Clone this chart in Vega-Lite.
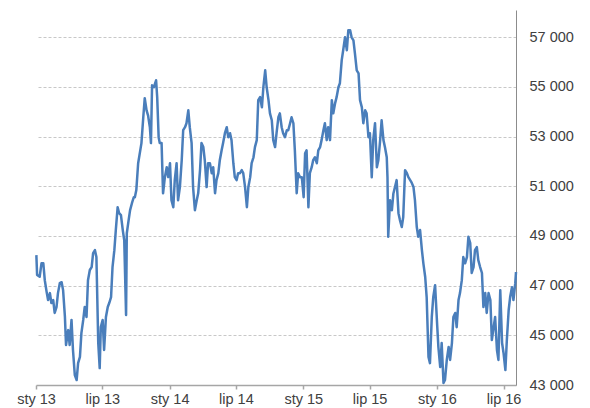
{
  "$schema": "https://vega.github.io/schema/vega-lite/v6.json",
  "width": 480,
  "height": 375,
  "autosize": {"type": "none"},
  "padding": {"left": 36, "top": 10, "right": 74, "bottom": 23},
  "background": "white",
  "config": {"view": {"stroke": null}, "font": "Liberation Sans"},
  "data": {"values": [
    {"d":"2013-01-02","v":48230},{"d":"2013-01-04","v":47430},{"d":"2013-01-11","v":47360},{"d":"2013-01-16","v":47900},{"d":"2013-01-21","v":47900},{"d":"2013-01-25","v":47220},{"d":"2013-01-30","v":46750},{"d":"2013-02-03","v":46420},{"d":"2013-02-08","v":46700},{"d":"2013-02-12","v":46300},{"d":"2013-02-17","v":46420},{"d":"2013-02-21","v":45900},{"d":"2013-02-26","v":46140},{"d":"2013-03-02","v":46700},{"d":"2013-03-07","v":47100},{"d":"2013-03-12","v":47140},{"d":"2013-03-16","v":46820},{"d":"2013-03-21","v":45740},{"d":"2013-03-24","v":44610},{"d":"2013-03-30","v":45210},{"d":"2013-04-03","v":44610},{"d":"2013-04-08","v":45620},{"d":"2013-04-12","v":44410},{"d":"2013-04-17","v":43400},{"d":"2013-04-22","v":43200},{"d":"2013-04-26","v":43880},{"d":"2013-05-01","v":44130},{"d":"2013-05-05","v":45090},{"d":"2013-05-10","v":45620},{"d":"2013-05-14","v":46140},{"d":"2013-05-19","v":45740},{"d":"2013-05-23","v":47220},{"d":"2013-05-28","v":47630},{"d":"2013-06-02","v":47750},{"d":"2013-06-06","v":48310},{"d":"2013-06-11","v":48430},{"d":"2013-06-15","v":48150},{"d":"2013-06-20","v":44690},{"d":"2013-06-24","v":43680},{"d":"2013-06-27","v":45330},{"d":"2013-07-02","v":45620},{"d":"2013-07-06","v":44410},{"d":"2013-07-11","v":45740},{"d":"2013-07-16","v":46140},{"d":"2013-07-20","v":46300},{"d":"2013-07-25","v":46540},{"d":"2013-07-29","v":47750},{"d":"2013-08-03","v":48430},{"d":"2013-08-07","v":49240},{"d":"2013-08-12","v":50160},{"d":"2013-08-16","v":49920},{"d":"2013-08-21","v":49840},{"d":"2013-08-26","v":49240},{"d":"2013-08-30","v":48830},{"d":"2013-09-04","v":45820},{"d":"2013-09-06","v":49110},{"d":"2013-09-11","v":49640},{"d":"2013-09-15","v":50040},{"d":"2013-09-20","v":50320},{"d":"2013-09-25","v":50560},{"d":"2013-09-28","v":50560},{"d":"2013-10-02","v":50850},{"d":"2013-10-07","v":51930},{"d":"2013-10-16","v":52740},{"d":"2013-10-21","v":53780},{"d":"2013-10-25","v":54550},{"d":"2013-10-30","v":54060},{"d":"2013-11-03","v":53860},{"d":"2013-11-08","v":53380},{"d":"2013-11-11","v":52740},{"d":"2013-11-14","v":55070},{"d":"2013-11-19","v":54990},{"d":"2013-11-25","v":55270},{"d":"2013-11-28","v":54590},{"d":"2013-12-02","v":52980},{"d":"2013-12-05","v":52740},{"d":"2013-12-10","v":52740},{"d":"2013-12-14","v":50720},{"d":"2013-12-19","v":51370},{"d":"2013-12-24","v":51770},{"d":"2013-12-28","v":51370},
    {"d":"2014-01-02","v":51930},{"d":"2014-01-06","v":50440},{"d":"2014-01-11","v":50160},{"d":"2014-01-15","v":51250},{"d":"2014-01-20","v":51930},{"d":"2014-01-24","v":50440},{"d":"2014-01-29","v":50970},{"d":"2014-02-03","v":52050},{"d":"2014-02-07","v":53260},{"d":"2014-02-12","v":53380},{"d":"2014-02-16","v":53540},{"d":"2014-02-21","v":54060},{"d":"2014-02-25","v":53380},{"d":"2014-03-02","v":52740},{"d":"2014-03-06","v":50970},{"d":"2014-03-11","v":50040},{"d":"2014-03-16","v":50440},{"d":"2014-03-20","v":50720},{"d":"2014-03-25","v":51650},{"d":"2014-03-29","v":52740},{"d":"2014-04-03","v":52580},{"d":"2014-04-07","v":52050},{"d":"2014-04-12","v":50970},{"d":"2014-04-16","v":51930},{"d":"2014-04-21","v":51930},{"d":"2014-04-26","v":51530},{"d":"2014-04-30","v":51770},{"d":"2014-05-05","v":50720},{"d":"2014-05-09","v":51250},{"d":"2014-05-14","v":51530},{"d":"2014-05-18","v":52050},{"d":"2014-05-23","v":52450},{"d":"2014-05-27","v":52740},{"d":"2014-06-01","v":53140},{"d":"2014-06-06","v":53380},{"d":"2014-06-10","v":52980},{"d":"2014-06-15","v":53140},{"d":"2014-06-19","v":52860},{"d":"2014-06-24","v":51930},{"d":"2014-06-28","v":51370},{"d":"2014-07-03","v":51250},{"d":"2014-07-07","v":51530},{"d":"2014-07-12","v":51530},{"d":"2014-07-17","v":51650},{"d":"2014-07-21","v":51530},{"d":"2014-07-26","v":50970},{"d":"2014-07-31","v":50160},{"d":"2014-08-04","v":50970},{"d":"2014-08-09","v":51370},{"d":"2014-08-13","v":51930},{"d":"2014-08-18","v":52170},{"d":"2014-08-22","v":52580},{"d":"2014-08-27","v":52860},{"d":"2014-08-31","v":54470},{"d":"2014-09-05","v":54590},{"d":"2014-09-10","v":54180},{"d":"2014-09-14","v":54990},{"d":"2014-09-19","v":55670},{"d":"2014-09-23","v":54990},{"d":"2014-09-28","v":54470},{"d":"2014-10-02","v":53940},{"d":"2014-10-07","v":53660},{"d":"2014-10-11","v":52860},{"d":"2014-10-16","v":52580},{"d":"2014-10-20","v":53140},{"d":"2014-10-25","v":53780},{"d":"2014-10-29","v":53940},{"d":"2014-11-03","v":53380},{"d":"2014-11-07","v":53140},{"d":"2014-11-12","v":52980},{"d":"2014-11-17","v":53260},{"d":"2014-11-21","v":53260},{"d":"2014-11-26","v":53540},{"d":"2014-11-30","v":53780},{"d":"2014-12-05","v":53540},{"d":"2014-12-09","v":52450},{"d":"2014-12-14","v":50720},{"d":"2014-12-18","v":51530},{"d":"2014-12-23","v":51370},{"d":"2014-12-28","v":51370},
    {"d":"2015-01-02","v":50560},{"d":"2015-01-06","v":52330},{"d":"2015-01-10","v":52450},{"d":"2015-01-15","v":50160},{"d":"2015-01-19","v":51530},{"d":"2015-01-24","v":51770},{"d":"2015-01-28","v":52050},{"d":"2015-02-02","v":52170},{"d":"2015-02-07","v":51930},{"d":"2015-02-11","v":52450},{"d":"2015-02-16","v":52580},{"d":"2015-02-20","v":52860},{"d":"2015-02-25","v":53260},{"d":"2015-03-01","v":53540},{"d":"2015-03-06","v":52860},{"d":"2015-03-10","v":53380},{"d":"2015-03-15","v":52860},{"d":"2015-03-20","v":54470},{"d":"2015-03-24","v":53940},{"d":"2015-03-29","v":54350},{"d":"2015-04-02","v":54590},{"d":"2015-04-07","v":54990},{"d":"2015-04-11","v":55150},{"d":"2015-04-16","v":56080},{"d":"2015-04-20","v":56480},{"d":"2015-04-25","v":57000},{"d":"2015-04-30","v":56480},{"d":"2015-05-04","v":57280},{"d":"2015-05-09","v":57280},{"d":"2015-05-13","v":57000},{"d":"2015-05-18","v":56880},{"d":"2015-05-22","v":56360},{"d":"2015-05-27","v":55670},{"d":"2015-06-01","v":55550},{"d":"2015-06-05","v":54470},{"d":"2015-06-10","v":54180},{"d":"2015-06-14","v":53540},{"d":"2015-06-19","v":54060},{"d":"2015-06-23","v":53940},{"d":"2015-06-28","v":52980},{"d":"2015-07-02","v":53140},{"d":"2015-07-07","v":51370},{"d":"2015-07-11","v":52860},{"d":"2015-07-16","v":53540},{"d":"2015-07-21","v":51770},{"d":"2015-07-25","v":52050},{"d":"2015-07-30","v":52860},{"d":"2015-08-03","v":53660},{"d":"2015-08-08","v":52860},{"d":"2015-08-12","v":52580},{"d":"2015-08-17","v":52170},{"d":"2015-08-19","v":51370},{"d":"2015-08-21","v":48970},{"d":"2015-08-26","v":50440},{"d":"2015-08-31","v":50040},{"d":"2015-09-04","v":50700},{"d":"2015-09-09","v":51000},{"d":"2015-09-13","v":51250},{"d":"2015-09-18","v":49920},{"d":"2015-09-22","v":49640},{"d":"2015-09-27","v":49360},{"d":"2015-10-01","v":49760},{"d":"2015-10-06","v":51650},{"d":"2015-10-11","v":51530},{"d":"2015-10-15","v":51370},{"d":"2015-10-20","v":51250},{"d":"2015-10-24","v":51150},{"d":"2015-10-29","v":50970},{"d":"2015-11-02","v":50440},{"d":"2015-11-07","v":49360},{"d":"2015-11-11","v":48970},{"d":"2015-11-16","v":49240},{"d":"2015-11-21","v":48430},{"d":"2015-11-25","v":47900},{"d":"2015-11-30","v":47350},{"d":"2015-12-04","v":46540},{"d":"2015-12-09","v":44130},{"d":"2015-12-13","v":43880},{"d":"2015-12-18","v":45740},{"d":"2015-12-22","v":46540},{"d":"2015-12-27","v":47020},
    {"d":"2016-01-02","v":45330},{"d":"2016-01-05","v":44530},{"d":"2016-01-10","v":43720},{"d":"2016-01-14","v":44690},{"d":"2016-01-19","v":43080},{"d":"2016-01-23","v":43200},{"d":"2016-01-28","v":44010},{"d":"2016-02-02","v":44530},{"d":"2016-02-06","v":44010},{"d":"2016-02-11","v":44690},{"d":"2016-02-15","v":45740},{"d":"2016-02-20","v":45900},{"d":"2016-02-24","v":45330},{"d":"2016-02-29","v":46420},{"d":"2016-03-04","v":46700},{"d":"2016-03-09","v":47220},{"d":"2016-03-13","v":48150},{"d":"2016-03-18","v":47900},{"d":"2016-03-23","v":48150},{"d":"2016-03-27","v":48970},{"d":"2016-04-01","v":48710},{"d":"2016-04-05","v":47510},{"d":"2016-04-10","v":47750},{"d":"2016-04-14","v":48430},{"d":"2016-04-19","v":48550},{"d":"2016-04-23","v":48030},{"d":"2016-04-28","v":47750},{"d":"2016-05-03","v":47510},{"d":"2016-05-07","v":46140},{"d":"2016-05-12","v":46700},{"d":"2016-05-16","v":45900},{"d":"2016-05-21","v":46700},{"d":"2016-05-26","v":46420},{"d":"2016-05-30","v":44810},{"d":"2016-06-04","v":45330},{"d":"2016-06-08","v":45740},{"d":"2016-06-13","v":44410},{"d":"2016-06-17","v":44010},{"d":"2016-06-22","v":46820},{"d":"2016-06-27","v":44690},{"d":"2016-07-01","v":44290},{"d":"2016-07-06","v":43600},{"d":"2016-07-10","v":44810},{"d":"2016-07-15","v":46020},{"d":"2016-07-19","v":46540},{"d":"2016-07-24","v":46940},{"d":"2016-07-28","v":46420},{"d":"2016-08-02","v":47100},{"d":"2016-08-04","v":47550}
  ]},
  "mark": {"type": "line", "color": "#4a7ebb", "strokeWidth": 2.5, "strokeJoin": "round"},
  "encoding": {
    "x": {
      "field": "d", "type": "temporal", "title": null,
      "scale": {"type": "utc", "domain": ["2013-01-01", "2016-08-04"], "nice": false},
      "axis": {
        "values": ["2013-01-01", "2013-07-01", "2014-01-01", "2014-07-01", "2015-01-01", "2015-07-01", "2016-01-01", "2016-07-01"],
        "labelExpr": "(utcmonth(datum.value) == 0 ? 'sty ' : 'lip ') + substring(toString(utcyear(datum.value)), 2)",
        "grid": false,
        "domainColor": "#a6a6a6", "domainWidth": 1.5,
        "tickColor": "#a6a6a6", "tickSize": 4, "tickWidth": 1.5,
        "labelFontSize": 14.5, "labelColor": "#404040", "labelPadding": 3,
        "labelFlush": false, "labelOverlap": false
      }
    },
    "y": {
      "field": "v", "type": "quantitative", "title": null,
      "scale": {"domain": [43000, 58100], "nice": false, "zero": false},
      "axis": {
        "orient": "right",
        "values": [43000, 45000, 47000, 49000, 51000, 53000, 55000, 57000],
        "labelExpr": "replace(format(datum.value, ','), ',', ' ')",
        "grid": true, "gridColor": "#c8c8c8", "gridDash": [3, 2], "gridWidth": 1,
        "ticks": false,
        "domainColor": "#8c8c8c", "domainWidth": 1,
        "labelFontSize": 14.5, "labelColor": "#404040", "labelPadding": 13,
        "labelFlush": false, "labelOverlap": false
      }
    }
  }
}
